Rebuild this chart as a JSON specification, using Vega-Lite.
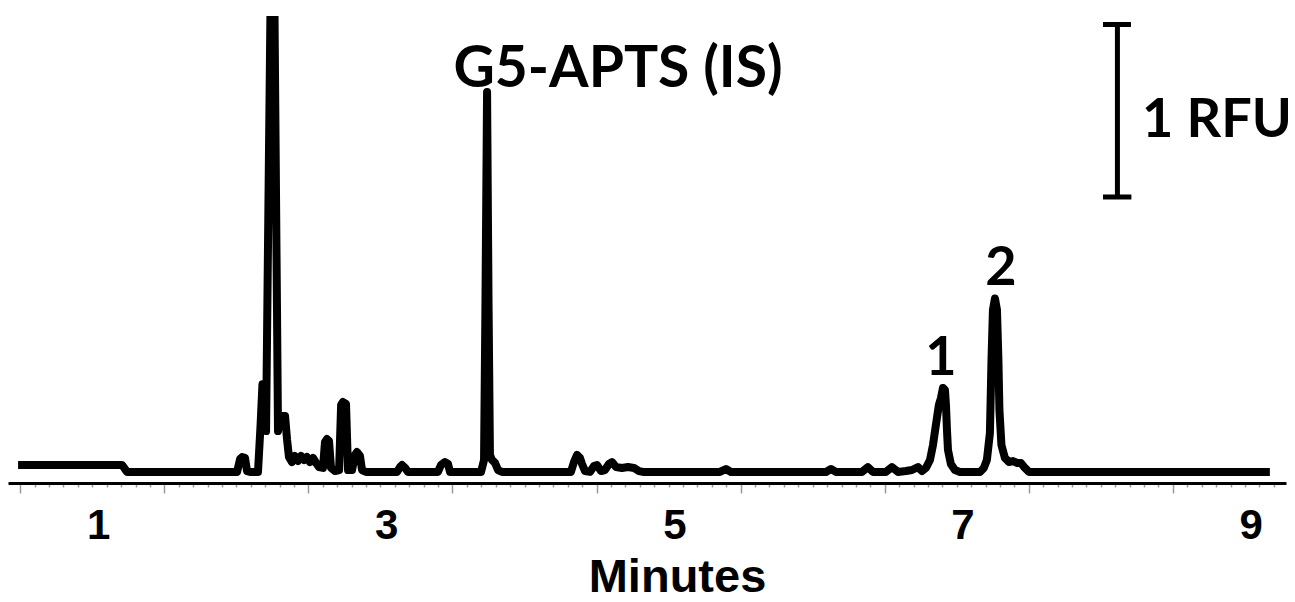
{
  "$schema": "https://vega.github.io/schema/vega-lite/v6.json",
  "width": 1278,
  "height": 467,
  "autosize": "none",
  "padding": {"left": 8, "top": 16, "right": 9, "bottom": 119},
  "background": "white",
  "config": {"view": {"stroke": null}},
  "resolve": {"axis": {"x": "independent"}},
  "datasets": {
    "trace": [
      {"t":0.445,"v":0.104},{"t":1.167,"v":0.104},{"t":1.201,"v":0.064},{"t":1.965,"v":0.064},
      {"t":1.986,"v":0.139},{"t":2.000,"v":0.150},{"t":2.020,"v":0.145},{"t":2.034,"v":0.069},
      {"t":2.055,"v":0.064},{"t":2.110,"v":0.064},{"t":2.128,"v":0.335},{"t":2.141,"v":0.570},
      {"t":2.152,"v":0.560},{"t":2.166,"v":0.300},{"t":2.201,"v":3.081},{"t":2.221,"v":3.081},
      {"t":2.249,"v":0.300},{"t":2.263,"v":0.380},{"t":2.277,"v":0.387},{"t":2.298,"v":0.387},
      {"t":2.312,"v":0.249},{"t":2.325,"v":0.150},{"t":2.346,"v":0.121},{"t":2.367,"v":0.156},
      {"t":2.388,"v":0.127},{"t":2.409,"v":0.156},{"t":2.430,"v":0.133},{"t":2.450,"v":0.150},
      {"t":2.471,"v":0.121},{"t":2.492,"v":0.145},{"t":2.513,"v":0.116},{"t":2.534,"v":0.092},
      {"t":2.561,"v":0.087},{"t":2.575,"v":0.237},{"t":2.589,"v":0.254},{"t":2.603,"v":0.243},
      {"t":2.617,"v":0.087},{"t":2.645,"v":0.069},{"t":2.673,"v":0.075},{"t":2.687,"v":0.451},
      {"t":2.700,"v":0.468},{"t":2.721,"v":0.457},{"t":2.735,"v":0.075},{"t":2.763,"v":0.075},
      {"t":2.783,"v":0.162},{"t":2.797,"v":0.179},{"t":2.818,"v":0.156},{"t":2.832,"v":0.075},
      {"t":2.860,"v":0.064},{"t":3.075,"v":0.064},{"t":3.096,"v":0.092},{"t":3.110,"v":0.104},
      {"t":3.131,"v":0.087},{"t":3.151,"v":0.064},{"t":3.359,"v":0.064},{"t":3.380,"v":0.104},
      {"t":3.408,"v":0.121},{"t":3.429,"v":0.110},{"t":3.443,"v":0.064},{"t":3.658,"v":0.064},
      {"t":3.679,"v":0.133},{"t":3.689,"v":1.058},{"t":3.700,"v":2.260},{"t":3.710,"v":1.058},
      {"t":3.720,"v":0.162},{"t":3.734,"v":0.133},{"t":3.755,"v":0.116},{"t":3.776,"v":0.075},
      {"t":3.804,"v":0.064},{"t":4.282,"v":0.064},{"t":4.303,"v":0.121},{"t":4.324,"v":0.162},
      {"t":4.345,"v":0.145},{"t":4.359,"v":0.110},{"t":4.380,"v":0.069},{"t":4.414,"v":0.064},
      {"t":4.442,"v":0.098},{"t":4.463,"v":0.104},{"t":4.491,"v":0.069},{"t":4.518,"v":0.075},
      {"t":4.546,"v":0.110},{"t":4.567,"v":0.121},{"t":4.595,"v":0.092},{"t":4.636,"v":0.087},
      {"t":4.678,"v":0.092},{"t":4.720,"v":0.087},{"t":4.754,"v":0.069},{"t":4.782,"v":0.064},
      {"t":5.316,"v":0.064},{"t":5.358,"v":0.081},{"t":5.393,"v":0.064},{"t":6.052,"v":0.064},
      {"t":6.087,"v":0.081},{"t":6.121,"v":0.064},{"t":6.302,"v":0.064},{"t":6.343,"v":0.092},
      {"t":6.378,"v":0.064},{"t":6.468,"v":0.064},{"t":6.510,"v":0.092},{"t":6.552,"v":0.064},
      {"t":6.607,"v":0.069},{"t":6.649,"v":0.075},{"t":6.691,"v":0.092},{"t":6.718,"v":0.069},
      {"t":6.746,"v":0.087},{"t":6.774,"v":0.133},{"t":6.795,"v":0.220},{"t":6.815,"v":0.335},
      {"t":6.836,"v":0.451},{"t":6.850,"v":0.491},{"t":6.864,"v":0.549},{"t":6.878,"v":0.538},
      {"t":6.885,"v":0.451},{"t":6.892,"v":0.306},{"t":6.899,"v":0.191},{"t":6.919,"v":0.110},
      {"t":6.947,"v":0.075},{"t":6.982,"v":0.064},{"t":7.121,"v":0.064},{"t":7.148,"v":0.087},
      {"t":7.169,"v":0.133},{"t":7.190,"v":0.289},{"t":7.201,"v":0.711},{"t":7.211,"v":1.000},
      {"t":7.225,"v":1.066},{"t":7.239,"v":1.000},{"t":7.249,"v":0.711},{"t":7.256,"v":0.422},
      {"t":7.270,"v":0.220},{"t":7.294,"v":0.145},{"t":7.322,"v":0.121},{"t":7.350,"v":0.127},
      {"t":7.377,"v":0.116},{"t":7.405,"v":0.116},{"t":7.433,"v":0.087},{"t":7.461,"v":0.064},
      {"t":9.133,"v":0.064}
    ],
    "scalebar": [
      {"x":8.075,"x2":8.075,"y":1.653,"y2":2.650},
      {"x":7.975,"x2":8.169,"y":2.650,"y2":2.650},
      {"x":7.975,"x2":8.172,"y":1.653,"y2":1.653}
    ],
    "labels": [
      {"t":8.766,"v":2.000,"label":"1 RFU"},
      {"t":6.850,"v":0.624,"label":"1"},
      {"t":7.266,"v":1.145,"label":"2"}
    ],
    "islabel": [
      {"t":4.609,"v":2.289,"label":"G5-APTS (IS)"}
    ]
  },
  "layer": [
    {
      "data": {"name": "trace"},
      "mark": {"type": "line", "color": "black", "strokeWidth": 8, "strokeJoin": "round", "clip": true},
      "encoding": {
        "x": {
          "field": "t", "type": "quantitative",
          "scale": {"domain": [0.375, 9.245], "nice": false, "zero": false},
          "axis": {
            "orient": "bottom",
            "title": null,
            "labels": false,
            "domainColor": "black", "domainWidth": 3,
            "grid": false,
            "values": [0.46,0.56,0.66,0.76,0.86,0.96,1.06,1.16,1.26,1.36,1.46,1.56,1.66,1.76,1.86,1.96,2.06,2.16,2.26,2.36,2.46,2.56,2.66,2.76,2.86,2.96,3.06,3.16,3.26,3.36,3.46,3.56,3.66,3.76,3.86,3.96,4.06,4.16,4.26,4.36,4.46,4.56,4.66,4.76,4.86,4.96,5.06,5.16,5.26,5.36,5.46,5.56,5.66,5.76,5.86,5.96,6.06,6.16,6.26,6.36,6.46,6.56,6.66,6.76,6.86,6.96,7.06,7.16,7.26,7.36,7.46,7.56,7.66,7.76,7.86,7.96,8.06,8.16,8.26,8.36,8.46,8.56,8.66,8.76,8.86,8.96,9.06,9.16],
            "tickColor": "#9a9a9a", "tickWidth": 1.5,
            "tickSize": {"condition": {"test": "abs((datum.value - 0.46) - round(datum.value - 0.46)) < 0.001", "value": 10}, "value": 4}
          }
        },
        "y": {
          "field": "v", "type": "quantitative",
          "scale": {"domain": [0, 2.699], "nice": false, "zero": false},
          "axis": null
        }
      }
    },
    {
      "data": {"name": "scalebar"},
      "mark": {"type": "rule", "color": "black", "strokeWidth": 5},
      "encoding": {
        "x": {
          "field": "x", "type": "quantitative",
          "scale": {"domain": [0.375, 9.245], "nice": false, "zero": false},
          "axis": {
            "orient": "bottom",
            "values": [1, 3, 5, 7, 9],
            "format": "d",
            "ticks": false,
            "domain": false,
            "grid": false,
            "labelFont": "Liberation Sans", "labelFontWeight": "bold", "labelFontSize": 42, "labelColor": "black",
            "labelBaseline": "alphabetic", "labelPadding": 55, "labelOverlap": false, "labelFlush": false,
            "title": "Minutes",
            "titleFont": "Liberation Sans", "titleFontWeight": "bold", "titleFontSize": 47, "titleColor": "black",
            "titleX": 669, "titleY": 108, "titleBaseline": "alphabetic", "titleAlign": "center"
          }
        },
        "x2": {"field": "x2"},
        "y": {"field": "y", "type": "quantitative", "scale": {"domain": [0, 2.699], "nice": false, "zero": false}, "axis": null},
        "y2": {"field": "y2"}
      }
    },
    {
      "data": {"name": "labels"},
      "mark": {"type": "text", "font": "Lato", "fontWeight": "bold", "fontSize": 54, "color": "black", "align": "center", "baseline": "alphabetic"},
      "encoding": {
        "x": {"field": "t", "type": "quantitative", "axis": null},
        "y": {"field": "v", "type": "quantitative", "axis": null},
        "text": {"field": "label"}
      }
    },
    {
      "data": {"name": "islabel"},
      "mark": {"type": "text", "font": "Lato", "fontWeight": "bold", "fontSize": 57, "color": "black", "align": "center", "baseline": "alphabetic"},
      "encoding": {
        "x": {"field": "t", "type": "quantitative", "axis": null},
        "y": {"field": "v", "type": "quantitative", "axis": null},
        "text": {"field": "label"}
      }
    }
  ]
}
